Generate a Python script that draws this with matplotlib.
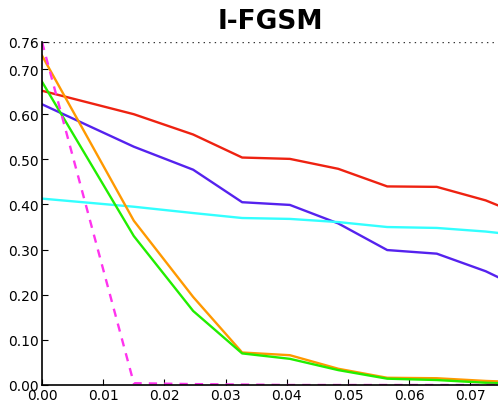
import matplotlib
matplotlib.use("Agg")
import matplotlib.pyplot as plt

eps = [0.0, 0.015, 0.0247, 0.0327, 0.0405, 0.0484, 0.0564, 0.0645, 0.0725, 0.0745]

red = [0.652, 0.600, 0.555, 0.504, 0.501, 0.479, 0.440, 0.439, 0.409, 0.398]
blue = [0.622, 0.528, 0.477, 0.405, 0.399, 0.358, 0.299, 0.291, 0.252, 0.239]
cyan = [0.413, 0.395, 0.381, 0.370, 0.368, 0.361, 0.350, 0.348, 0.340, 0.337]
orange = [0.730, 0.364, 0.195, 0.072, 0.066, 0.036, 0.016, 0.015, 0.009, 0.008]
green = [0.672, 0.330, 0.164, 0.070, 0.058, 0.033, 0.014, 0.011, 0.005, 0.004]
magenta = [0.760, 0.004, 0.002, 0.001, 0.0, 0.0, 0.0, 0.0, 0.0, 0.0]

yticks = [0.0, 0.1, 0.2, 0.3, 0.4, 0.5, 0.6, 0.7, 0.76]
xticks = [0.0, 0.01, 0.02, 0.03, 0.04, 0.05, 0.06, 0.07]
top_val = 0.76

fig = plt.figure(figsize=(4.98, 4.02), dpi=100)
ax = fig.add_axes([42/498, 16/402, 456/498, 343/402])

lw = 1.7
ax.plot(eps, red, color="#ee2211", lw=lw)
ax.plot(eps, blue, color="#5522ee", lw=lw)
ax.plot(eps, cyan, color="#33ffff", lw=lw)
ax.plot(eps, orange, color="#ff9900", lw=lw)
ax.plot(eps, green, color="#22ee00", lw=lw)
ax.plot(eps, magenta, color="#ff33ee", lw=lw, ls=(0, (3.5, 3)))
ax.axhline(top_val, color="#333333", lw=1.0, ls=(0, (1, 3)))

ax.set_xlim(0, 0.0745)
ax.set_ylim(0, 0.76)
ax.set_yticks(yticks)
ax.set_yticklabels([f"{v:.2f}" for v in yticks])
ax.set_xticks(xticks)
ax.set_xticklabels([f"{v:.2f}" for v in xticks])
ax.tick_params(direction="in", labelsize=10, length=4, pad=2)
for s in ["top", "right"]:
    ax.spines[s].set_visible(False)
ax.spines["left"].set_linewidth(1.2)
ax.spines["bottom"].set_linewidth(1.2)
ax.set_title("I-FGSM", fontsize=19, fontweight="bold", pad=10)

fig.savefig("out.png", dpi=100)
